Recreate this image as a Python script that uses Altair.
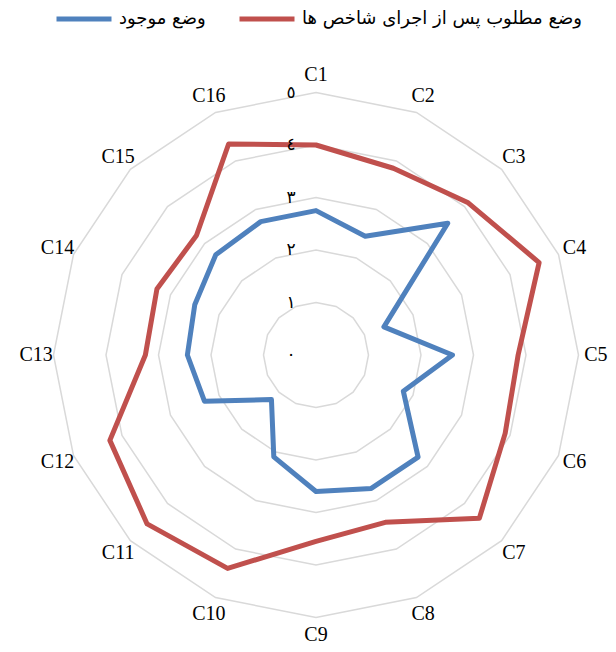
import altair as alt
import pandas as pd

categories = ["C1", "C2", "C3", "C4", "C5", "C6", "C7", "C8",
              "C9", "C10", "C11", "C12", "C13", "C14", "C15", "C16"]
current = [2.75, 2.45, 3.55, 1.4, 2.6, 1.8, 2.75, 2.75,
           2.6, 2.1, 1.2, 2.3, 2.45, 2.5, 2.7, 2.75]
desired = [4.0, 3.85, 4.1, 4.6, 3.85, 3.9, 4.4, 3.45,
           3.55, 4.4, 4.55, 4.25, 3.25, 3.28, 3.22, 4.35]
series_names = ["وضع موجود", "وضع مطلوب پس از اجرای شاخص ها"]
series_colors = ["#4F81BD", "#C0504D"]
grid_levels = [1, 2, 3, 4, 5]
tick_values = [0, 1, 2, 3, 4, 5]
tick_labels = ["٠", "١", "٢", "٣", "٤", "٥"]

N = len(categories)
W, H = 600, 636
CX, CY = 308, 347
UNIT = 52.5
LABEL_R = 5.33

x_scale = alt.Scale(domain=[-CX / UNIT, (W - CX) / UNIT], nice=False, zero=False)
y_scale = alt.Scale(domain=[-(H - CY) / UNIT, CY / UNIT], nice=False, zero=False)

series_df = pd.DataFrame({
    "idx": list(range(N)) * 2,
    "category": categories * 2,
    "value": current + desired,
    "series": [series_names[0]] * N + [series_names[1]] * N,
})
grid_df = pd.DataFrame({
    "idx": [i for _ in grid_levels for i in range(N)],
    "value": [lv for lv in grid_levels for _ in range(N)],
})
tick_df = pd.DataFrame({"value": tick_values, "label": tick_labels})
cat_df = pd.DataFrame({"idx": list(range(N)), "category": categories})

ang = f"datum.idx * 2 * PI / {N}"

def polar(ch, rexpr):
    return ch.transform_calculate(
        ang=ang
    ).transform_calculate(
        px=f"({rexpr}) * sin(datum.ang)",
        py=f"({rexpr}) * cos(datum.ang)",
    )

grid = polar(alt.Chart(grid_df), "datum.value").mark_line(
    interpolate="linear-closed", color="#D9D9D9", strokeWidth=1.5
).encode(
    x=alt.X("px:Q", scale=x_scale, axis=None),
    y=alt.Y("py:Q", scale=y_scale, axis=None),
    detail="value:N",
    order="idx:Q",
)

lines = polar(alt.Chart(series_df), "datum.value").mark_line(
    interpolate="linear-closed", strokeWidth=5, strokeJoin="round"
).encode(
    x=alt.X("px:Q", scale=x_scale, axis=None),
    y=alt.Y("py:Q", scale=y_scale, axis=None),
    color=alt.Color(
        "series:N",
        scale=alt.Scale(domain=series_names, range=series_colors),
        legend=alt.Legend(
            title=None, orient="none", legendX=46, legendY=-19,
            direction="horizontal", symbolType="stroke", symbolSize=3025,
            symbolStrokeWidth=5, labelFont="DejaVu Sans", labelFontSize=18,
            labelColor="#000000", labelOffset=5, columnPadding=23,
            labelLimit=400,
        ),
    ),
    order="idx:Q",
)

ticks = alt.Chart(tick_df).mark_text(
    dx=-25, align="center", baseline="middle", font="DejaVu Sans",
    fontSize=17, color="#000000"
).encode(
    x=alt.X("zero:Q", scale=x_scale, axis=None),
    y=alt.Y("value:Q", scale=y_scale, axis=None),
    text="label:N",
).transform_calculate(zero="0")

labels = polar(alt.Chart(cat_df), str(LABEL_R)).mark_text(
    align="center", baseline="middle", font="Liberation Serif",
    fontSize=20, color="#000000"
).encode(
    x=alt.X("px:Q", scale=x_scale, axis=None),
    y=alt.Y("py:Q", scale=y_scale, axis=None),
    text="category:N",
)

chart = alt.layer(grid, lines, ticks, labels).properties(
    width=W, height=H, padding=0,
    autosize=alt.AutoSizeParams(type="none"),
).configure_view(stroke=None)

chart.save("out.html", embed_options={"renderer": "svg", "actions": False})
